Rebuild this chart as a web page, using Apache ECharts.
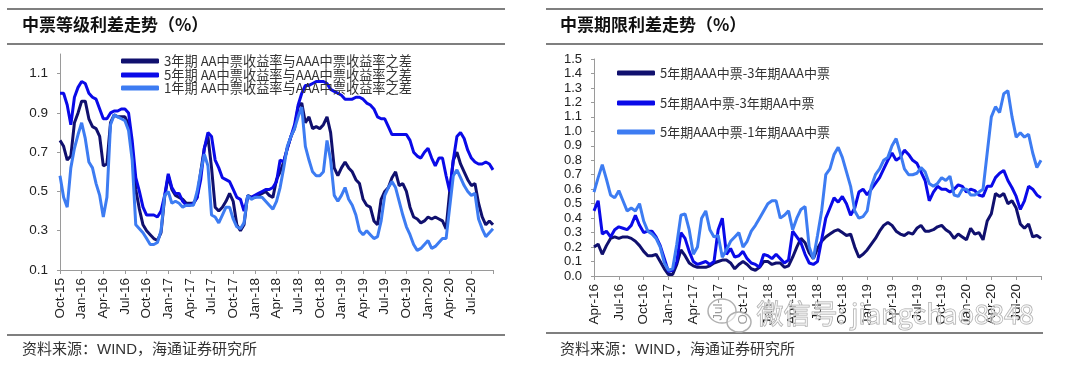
<!DOCTYPE html>
<html><head><meta charset="utf-8">
<script src="https://cdn.jsdelivr.net/npm/echarts@6/dist/echarts.min.js"></script>
<style>html,body{margin:0;padding:0;background:#fff}#c{width:1080px;height:368px}</style>
</head><body><div id="c"></div>
<script>
// ---------- data ----------
const monthNames = ['Jan','Feb','Mar','Apr','May','Jun','Jul','Aug','Sep','Oct','Nov','Dec'];
const gradeNames = ['3年期 AA中票收益率与AAA中票收益率之差','5年期 AA中票收益率与AAA中票收益率之差','1年期 AA中票收益率与AAA中票收益率之差'];
const termNames = ['5年期AAA中票-3年期AAA中票','5年期AA中票-3年期AA中票','5年期AAA中票-1年期AAA中票'];
const leftTitle = '中票等级利差走势（%）';
const rightTitle = '中票期限利差走势（%）';
const sourceText = '资料来源：WIND，海通证券研究所';

// semi-monthly observations, Oct 2015 – Oct 2020
const grade3Y = [0.76,0.73,0.66,0.68,0.85,0.90,0.96,0.96,0.87,0.83,
 0.82,0.78,0.63,0.64,0.85,0.89,0.88,0.88,0.88,0.84,
 0.71,0.51,0.41,0.33,0.30,0.28,0.26,0.25,0.29,0.47,
 0.58,0.51,0.48,0.47,0.46,0.44,0.44,0.44,0.47,0.60,
 0.72,0.78,0.62,0.42,0.40,0.42,0.45,0.49,0.45,0.33,
 0.30,0.33,0.48,0.47,0.47,0.48,0.49,0.50,0.48,0.47,
 0.56,0.60,0.65,0.72,0.78,0.82,0.93,0.95,0.85,0.88,
 0.82,0.83,0.82,0.84,0.88,0.80,0.62,0.58,0.62,0.65,
 0.62,0.60,0.56,0.54,0.46,0.43,0.42,0.35,0.33,0.46,
 0.50,0.52,0.57,0.60,0.53,0.54,0.50,0.42,0.37,0.36,
 0.34,0.35,0.37,0.36,0.37,0.36,0.35,0.31,0.50,0.66,
 0.70,0.64,0.60,0.56,0.53,0.54,0.44,0.37,0.33,0.35,
 0.33];
const grade5Y = [1.00,1.00,0.94,0.84,0.98,1.03,1.06,1.05,1.00,0.98,
 0.97,0.92,0.87,0.87,0.90,0.91,0.91,0.92,0.92,0.90,
 0.76,0.57,0.50,0.42,0.38,0.38,0.38,0.37,0.40,0.48,
 0.59,0.52,0.49,0.49,0.45,0.43,0.43,0.44,0.47,0.56,
 0.72,0.80,0.78,0.66,0.62,0.57,0.56,0.55,0.51,0.47,
 0.46,0.40,0.47,0.47,0.48,0.49,0.50,0.51,0.51,0.52,
 0.55,0.66,0.65,0.72,0.78,0.84,0.94,1.00,1.04,1.04,
 1.05,1.06,1.06,1.06,1.05,1.02,1.01,1.00,0.99,0.97,
 0.97,0.97,0.98,0.98,0.97,0.95,0.94,0.92,0.88,0.87,
 0.87,0.83,0.79,0.79,0.79,0.79,0.79,0.76,0.70,0.68,
 0.67,0.70,0.72,0.67,0.63,0.67,0.67,0.58,0.50,0.66,
 0.78,0.80,0.77,0.71,0.67,0.65,0.64,0.64,0.65,0.64,
 0.61];
const grade1Y = [0.58,0.47,0.42,0.62,0.72,0.79,0.85,0.77,0.65,0.62,
 0.54,0.48,0.37,0.47,0.84,0.89,0.88,0.87,0.86,0.81,
 0.66,0.33,0.31,0.29,0.26,0.23,0.23,0.24,0.30,0.48,
 0.50,0.44,0.45,0.44,0.42,0.43,0.43,0.43,0.50,0.60,
 0.69,0.63,0.38,0.37,0.34,0.38,0.42,0.42,0.36,0.32,
 0.31,0.34,0.48,0.46,0.47,0.47,0.47,0.45,0.43,0.41,
 0.45,0.52,0.62,0.73,0.78,0.82,0.88,0.93,0.73,0.66,
 0.60,0.58,0.58,0.60,0.76,0.66,0.48,0.45,0.48,0.52,
 0.46,0.43,0.38,0.30,0.28,0.30,0.28,0.26,0.27,0.35,
 0.48,0.52,0.55,0.52,0.45,0.38,0.32,0.28,0.23,0.20,
 0.21,0.23,0.25,0.21,0.22,0.24,0.26,0.26,0.42,0.58,
 0.61,0.57,0.53,0.50,0.48,0.49,0.36,0.31,0.27,0.29,
 0.31];

// semi-monthly observations, Apr 2016 – Oct 2020
const termAAA53 = [0.20,0.22,0.15,0.21,0.26,0.27,0.26,0.27,0.27,0.26,
 0.24,0.21,0.17,0.14,0.14,0.15,0.10,0.05,0.01,0.01,
 0.08,0.18,0.14,0.09,0.07,0.06,0.06,0.06,0.07,0.09,
 0.10,0.11,0.11,0.09,0.05,0.08,0.10,0.08,0.05,0.04,
 0.06,0.10,0.10,0.08,0.09,0.09,0.06,0.07,0.13,0.20,
 0.26,0.23,0.16,0.12,0.19,0.24,0.27,0.29,0.31,0.32,
 0.30,0.28,0.29,0.20,0.13,0.15,0.18,0.22,0.26,0.31,
 0.35,0.37,0.35,0.31,0.29,0.28,0.30,0.29,0.33,0.35,
 0.31,0.31,0.32,0.34,0.35,0.32,0.30,0.26,0.29,0.27,
 0.25,0.33,0.29,0.30,0.25,0.38,0.43,0.57,0.55,0.57,
 0.50,0.52,0.47,0.36,0.33,0.36,0.27,0.28,0.26];
const termAA53 = [0.45,0.52,0.29,0.31,0.27,0.32,0.34,0.33,0.32,0.35,
 0.42,0.35,0.30,0.31,0.31,0.27,0.21,0.12,0.03,0.04,
 0.10,0.30,0.26,0.17,0.10,0.08,0.09,0.10,0.08,0.10,
 0.32,0.40,0.15,0.19,0.13,0.14,0.17,0.12,0.09,0.08,
 0.06,0.15,0.14,0.12,0.15,0.12,0.09,0.11,0.31,0.27,
 0.23,0.15,0.09,0.08,0.10,0.25,0.40,0.47,0.54,0.51,
 0.55,0.50,0.42,0.47,0.58,0.60,0.56,0.60,0.64,0.68,
 0.74,0.80,0.85,0.80,0.82,0.87,0.84,0.80,0.78,0.72,
 0.66,0.52,0.58,0.62,0.60,0.60,0.58,0.60,0.63,0.62,
 0.58,0.60,0.59,0.56,0.55,0.62,0.62,0.68,0.71,0.73,
 0.66,0.61,0.55,0.46,0.52,0.62,0.60,0.56,0.54];
const termAAA51 = [0.58,0.68,0.77,0.67,0.56,0.54,0.59,0.52,0.45,0.47,
 0.45,0.50,0.38,0.31,0.29,0.26,0.20,0.09,0.04,0.05,
 0.22,0.42,0.43,0.32,0.15,0.20,0.40,0.45,0.32,0.27,
 0.28,0.13,0.18,0.24,0.27,0.30,0.20,0.24,0.31,0.35,
 0.40,0.45,0.50,0.52,0.52,0.40,0.42,0.45,0.32,0.40,
 0.46,0.48,0.20,0.12,0.28,0.45,0.70,0.74,0.84,0.89,
 0.82,0.72,0.62,0.45,0.40,0.41,0.45,0.62,0.70,0.74,
 0.80,0.82,0.90,0.95,0.85,0.74,0.70,0.70,0.71,0.75,
 0.72,0.64,0.62,0.64,0.68,0.66,0.69,0.56,0.55,0.60,
 0.60,0.56,0.56,0.58,0.60,0.85,1.10,1.17,1.13,1.26,
 1.28,1.10,0.96,0.99,0.96,0.98,0.85,0.75,0.80];

// ---------- categories (half-month dates) ----------
function halfMonths(year, month0, n) {
  const out = [];
  for (let i = 0; i < n; i++) {
    const m = month0 + Math.floor(i / 2);
    const y = year + Math.floor(m / 12);
    const mm = (m % 12) + 1;
    out.push(y + '-' + String(mm).padStart(2, '0') + (i % 2 ? '-16' : '-01'));
  }
  return out;
}
const leftDates = halfMonths(2015, 9, grade3Y.length);
const rightDates = halfMonths(2016, 3, termAAA53.length);

function isQuarterStart(v) {
  const mm = +v.slice(5, 7);
  return v.slice(8) === '01' && (mm - 1) % 3 === 0;
}
function tickLabel(v) { return monthNames[+v.slice(5, 7) - 1] + '-' + v.slice(2, 4); }

const colors = ['#10106e', '#0a0ae8', '#3d7cf2'];
const axisGrey = '#9a9a9a';
const sansFont = '"Liberation Sans", Arial, sans-serif';
const cjkFont = '"Noto Sans CJK SC", sans-serif';

function xAxisFor(gridIndex, dates, fs) {
  const last = dates.length - 1;
  return {
    type: 'category', gridIndex, data: dates, boundaryGap: false,
    axisLine: { lineStyle: { color: axisGrey, width: 1 } },
    axisTick: { interval: (i, v) => isQuarterStart(v) || i === last, length: 4, lineStyle: { color: axisGrey } },
    axisLabel: { interval: (i, v) => isQuarterStart(v) && i !== last, rotate: 90, formatter: tickLabel,
      fontSize: fs, color: '#222', fontFamily: sansFont, margin: 8 },
    splitLine: { show: false }
  };
}
function yAxisFor(gridIndex, min, max, interval, fs) {
  return {
    type: 'value', gridIndex, min, max, interval,
    axisLine: { show: true, lineStyle: { color: axisGrey, width: 1 } },
    axisTick: { show: true, length: 3, lineStyle: { color: axisGrey } },
    axisLabel: { formatter: v => v.toFixed(1), showMaxLabel: gridIndex === 1, fontSize: fs, color: '#222', fontFamily: sansFont, margin: 12 },
    splitLine: { show: false }
  };
}
function lineSeries(name, data, idx, gridIdx) {
  return { type: 'line', name, data, xAxisIndex: gridIdx, yAxisIndex: gridIdx, showSymbol: false, symbol: 'none',
    color: colors[idx], lineStyle: { width: 3, color: colors[idx] }, emphasis: { disabled: true } };
}
function legendFor(name, left, top, font, fs) {
  return { data: [name], left, top, orient: 'vertical', padding: 0, itemGap: 0, itemWidth: 38, itemHeight: 5,
    icon: 'roundRect', selectedMode: false,
    textStyle: { fontSize: fs, color: '#333', fontFamily: font, lineHeight: 14 } };
}
function rule(x1, x2, y) {
  return { type: 'line', shape: { x1, y1: y, x2, y2: y }, style: { stroke: '#555', lineWidth: 1.5 }, silent: true };
}

const chart = echarts.init(document.getElementById('c'), null, { renderer: 'canvas' });
chart.setOption({
  animation: false,
  backgroundColor: '#fff',
  grid: [
    { left: 60, top: 54, width: 433, height: 216 },
    { left: 594, top: 59, width: 447, height: 217 }
  ],
  xAxis: [xAxisFor(0, leftDates, 13.5), xAxisFor(1, rightDates, 13.5)],
  yAxis: [yAxisFor(0, 0.1, 1.2, 0.2, 13.5), yAxisFor(1, 0, 1.5, 0.1, 13)],
  legend: [
    legendFor(gradeNames[0], 121, 54, cjkFont, 13.2),
    legendFor(gradeNames[1], 121, 68, cjkFont, 13.2),
    legendFor(gradeNames[2], 121, 81, cjkFont, 13.2),
    legendFor(termNames[0], 617, 66, cjkFont, 13),
    legendFor(termNames[1], 617, 96, cjkFont, 13),
    legendFor(termNames[2], 617, 125, cjkFont, 13)
  ],
  series: [
    lineSeries(gradeNames[0], grade3Y, 0, 0),
    lineSeries(gradeNames[1], grade5Y, 1, 0),
    lineSeries(gradeNames[2], grade1Y, 2, 0),
    lineSeries(termNames[0], termAAA53, 0, 1),
    lineSeries(termNames[1], termAA53, 1, 1),
    lineSeries(termNames[2], termAAA51, 2, 1)
  ],
  graphic: [
    rule(7, 505, 9), rule(7, 505, 44), rule(7, 505, 335),
    rule(546, 1043, 9), rule(546, 1043, 44), rule(546, 1043, 333),
    { type: 'text', left: 22, top: 16, style: { text: leftTitle, font: 'bold 17px ' + cjkFont, fill: '#111' } },
    { type: 'text', left: 560, top: 16, style: { text: rightTitle, font: 'bold 17px ' + cjkFont, fill: '#111' } },
    { type: 'text', left: 22, top: 342, style: { text: sourceText, font: '15px "Liberation Sans", "Noto Sans CJK SC", sans-serif', fill: '#333' } },
    { type: 'text', left: 560, top: 342, style: { text: sourceText, font: '15px "Liberation Sans", "Noto Sans CJK SC", sans-serif', fill: '#333' } },
    { type: 'ellipse', shape: { cx: 722, cy: 311, rx: 14, ry: 12 }, style: { fill: 'rgba(255,255,255,0.55)', stroke: '#b0b0b0', lineWidth: 1.5 }, z: 100 },
    { type: 'ellipse', shape: { cx: 739, cy: 322, rx: 12, ry: 10 }, style: { fill: 'rgba(255,255,255,0.55)', stroke: '#b0b0b0', lineWidth: 1.5 }, z: 100 },
    { type: 'text', left: 756, top: 300, z: 100, style: { text: '微信号: jiangchao8848', font: '27px "Noto Sans CJK SC", sans-serif', fill: 'rgba(255,255,255,0.5)', stroke: '#a8a8a8', lineWidth: 1 } }
  ]
});
</script>
</body></html>
